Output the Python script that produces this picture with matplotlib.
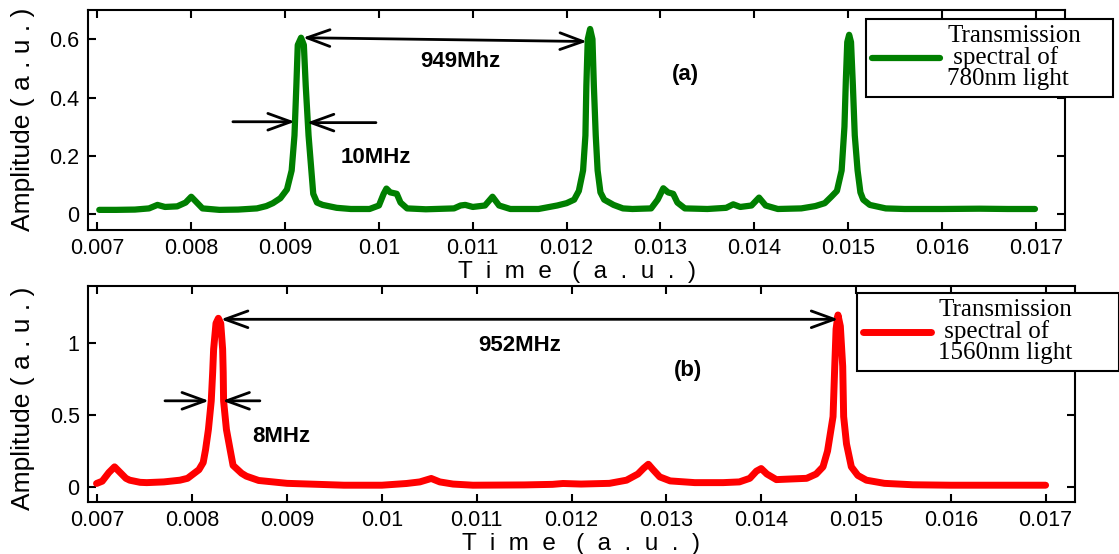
import matplotlib
matplotlib.use('Agg')
import matplotlib.pyplot as plt
import numpy as np

plt.rcParams['font.family'] = ['Liberation Sans', 'DejaVu Sans']

# time in units of 1e-3, amplitude in a.u.
green_t = [7.02, 7.20, 7.40, 7.55, 7.64, 7.72, 7.85, 7.94, 8.00, 8.06, 8.12, 8.30, 8.50,
           8.70, 8.80, 8.87, 8.95, 9.02, 9.07, 9.10, 9.12, 9.135, 9.17, 9.20, 9.22, 9.25,
           9.28, 9.30, 9.34, 9.40, 9.55, 9.70, 9.90, 10.00, 10.05, 10.08, 10.12, 10.19,
           10.23, 10.30, 10.50, 10.80, 10.87, 10.92, 11.00, 11.13, 11.21, 11.28, 11.40,
           11.70, 11.90, 12.00, 12.08, 12.13, 12.175, 12.20, 12.21, 12.225, 12.25, 12.275,
           12.29, 12.31, 12.33, 12.36, 12.40, 12.50, 12.60, 12.70, 12.90, 12.97, 13.03,
           13.08, 13.135, 13.18, 13.26, 13.50, 13.70, 13.775, 13.85, 13.97, 14.05, 14.12,
           14.25, 14.50, 14.65, 14.75, 14.82, 14.88, 14.93, 14.96, 14.975, 14.99, 15.01,
           15.03, 15.05, 15.07, 15.10, 15.13, 15.16, 15.23, 15.40, 15.60, 16.00, 16.40,
           16.70, 16.99]
green_a = [0.015, 0.015, 0.016, 0.020, 0.032, 0.025, 0.027, 0.040, 0.060, 0.040, 0.020,
           0.015, 0.016, 0.020, 0.028, 0.038, 0.055, 0.085, 0.150, 0.270, 0.440, 0.580,
           0.605, 0.580, 0.440, 0.270, 0.150, 0.070, 0.040, 0.032, 0.022, 0.018, 0.018,
           0.030, 0.070, 0.088, 0.075, 0.070, 0.040, 0.020, 0.017, 0.020, 0.030, 0.032,
           0.025, 0.030, 0.060, 0.030, 0.018, 0.018, 0.030, 0.038, 0.050, 0.080, 0.150,
           0.270, 0.440, 0.600, 0.635, 0.600, 0.440, 0.270, 0.150, 0.075, 0.050, 0.032,
           0.020, 0.018, 0.020, 0.050, 0.089, 0.075, 0.070, 0.040, 0.020, 0.018, 0.022,
           0.034, 0.025, 0.030, 0.057, 0.030, 0.018, 0.020, 0.028, 0.038, 0.060, 0.080,
           0.150, 0.300, 0.460, 0.590, 0.615, 0.590, 0.440, 0.270, 0.150, 0.075, 0.050,
           0.032, 0.020, 0.018, 0.018, 0.019, 0.018, 0.018]

red_t = [6.99, 7.05, 7.12, 7.18, 7.24, 7.30, 7.34, 7.45, 7.52, 7.70, 7.87, 7.95, 8.01,
         8.07, 8.115, 8.14, 8.17, 8.20, 8.215, 8.225, 8.25, 8.275, 8.30, 8.32, 8.326,
         8.33, 8.36, 8.40, 8.43, 8.52, 8.57, 8.70, 8.85, 9.00, 9.28, 9.60, 10.00, 10.26,
         10.40, 10.52, 10.61, 10.75, 10.96, 11.50, 11.80, 11.91, 12.10, 12.40, 12.58,
         12.70, 12.76, 12.81, 12.86, 12.93, 13.04, 13.30, 13.60, 13.77, 13.88, 13.95,
         14.00, 14.06, 14.16, 14.30, 14.48, 14.58, 14.652, 14.70, 14.758, 14.776, 14.79,
         14.81, 14.835, 14.86, 14.87, 14.90, 14.951, 15.02, 15.11, 15.30, 15.60, 16.00,
         16.50, 17.00]
red_a = [0.024, 0.040, 0.100, 0.140, 0.100, 0.060, 0.047, 0.032, 0.030, 0.035, 0.047,
         0.060, 0.090, 0.120, 0.170, 0.260, 0.400, 0.600, 0.800, 0.960, 1.140, 1.175,
         1.140, 0.960, 0.800, 0.600, 0.400, 0.256, 0.150, 0.095, 0.075, 0.045, 0.035,
         0.025, 0.019, 0.012, 0.012, 0.024, 0.035, 0.059, 0.035, 0.020, 0.012, 0.014,
         0.018, 0.024, 0.020, 0.025, 0.047, 0.090, 0.130, 0.158, 0.120, 0.070, 0.042,
         0.030, 0.030, 0.035, 0.060, 0.110, 0.128, 0.090, 0.051, 0.055, 0.060, 0.090,
         0.140, 0.250, 0.490, 0.840, 1.100, 1.198, 1.120, 0.840, 0.490, 0.300, 0.140,
         0.080, 0.047, 0.025, 0.015, 0.012, 0.012, 0.012]

x_ticks = [0.007, 0.008, 0.009, 0.010, 0.011, 0.012, 0.013, 0.014, 0.015, 0.016, 0.017]
x_tick_labels = ['0.007', '0.008', '0.009', '0.01', '0.011', '0.012', '0.013', '0.014',
                 '0.015', '0.016', '0.017']
top_y_ticks = [0, 0.2, 0.4, 0.6]
top_y_labels = ['0', '0.2', '0.4', '0.6']
bot_y_ticks = [0, 0.5, 1]
bot_y_labels = ['0', '0.5', '1']

W, H = 1119, 554
fig = plt.figure(figsize=(W / 100, H / 100), dpi=100)

def px_box(l, t, r, b):
    return [l / W, 1 - b / H, (r - l) / W, (b - t) / H]

ax1 = fig.add_axes(px_box(88, 10, 1065, 230))
ax2 = fig.add_axes(px_box(88, 286, 1075, 502))

t_green = np.array(green_t) * 1e-3
t_red = np.array(red_t) * 1e-3
ax1.plot(t_green, green_a, color='#007f00', lw=4.5, solid_joinstyle='round',
         solid_capstyle='round', label='Transmission\n spectral of\n780nm light')
ax2.plot(t_red, red_a, color='#ff0000', lw=5.0, solid_joinstyle='round',
         solid_capstyle='round', label='Transmission\n spectral of\n1560nm light')

ax1.set_ylim(-0.054, 0.70)
ax2.set_ylim(-0.105, 1.40)
ax1.set_yticks(top_y_ticks, top_y_labels)
ax2.set_yticks(bot_y_ticks, bot_y_labels)

for ax in (ax1, ax2):
    ax.set_xlim(0.0069, 0.01731)
    ax.set_xticks(x_ticks, x_tick_labels)
    ax.tick_params(direction='in', top=True, right=True, length=6, width=1.5,
                   labelsize=15.5, pad=6)
    for sp in ax.spines.values():
        sp.set_linewidth(1.5)
    ax.set_xlabel('T  i  m  e   (  a  .  u  .  )', fontsize=17.5, labelpad=1)

fig.text(23 / W, 1 - 231 / H, 'Amplitude ( a . u . )', rotation=90, ha='center',
         va='bottom', fontsize=19)
fig.text(23 / W, 1 - 510 / H, 'Amplitude ( a . u . )', rotation=90, ha='center',
         va='bottom', fontsize=19)

arrow = dict(arrowstyle='->, head_length=0.55, head_width=0.2', lw=2.0, color='k',
             mutation_scale=30, shrinkA=0, shrinkB=0)
darrow = dict(arrowstyle='<->, head_length=0.55, head_width=0.2', lw=2.0, color='k',
              mutation_scale=30, shrinkA=0, shrinkB=0)

# panel (a)
ax1.annotate('', xy=(0.012216, 0.592), xytext=(0.00919, 0.605), arrowprops=darrow)
ax1.annotate('', xy=(0.009104, 0.317), xytext=(0.008444, 0.317), arrowprops=arrow)
ax1.annotate('', xy=(0.009232, 0.314), xytext=(0.009968, 0.314), arrowprops=arrow)
ax1.text(0.010863, 0.523, '949Mhz', fontsize=16, weight='bold', ha='center', va='center')
ax1.text(0.009962, 0.194, '10MHz', fontsize=16, weight='bold', ha='center', va='center')
ax1.text(0.013269, 0.478, '(a)', fontsize=16, weight='bold', ha='center', va='center')

# panel (b)
ax2.annotate('', xy=(0.014813, 1.168), xytext=(0.008302, 1.168), arrowprops=darrow)
ax2.annotate('', xy=(0.008176, 0.60), xytext=(0.007712, 0.60), arrowprops=arrow)
ax2.annotate('', xy=(0.008318, 0.60), xytext=(0.008713, 0.60), arrowprops=arrow)
ax2.text(0.011454, 0.982, '952MHz', fontsize=16, weight='bold', ha='center', va='center')
ax2.text(0.013231, 0.81, '(b)', fontsize=16, weight='bold', ha='center', va='center')
ax2.text(0.008935, 0.349, '8MHz', fontsize=16, weight='bold', ha='center', va='center')

leg_kw = dict(loc='upper left', mode='expand', bbox_transform=fig.transFigure,
              borderaxespad=0, fancybox=False, edgecolor='k', framealpha=1,
              prop={'family': 'Liberation Serif', 'size': 18}, handlelength=2.7,
              handletextpad=0.3, borderpad=0.25)
l1 = ax1.legend(bbox_to_anchor=(866 / W, 1 - 97 / H, 247 / W, 78 / H), **leg_kw)
l2 = ax2.legend(bbox_to_anchor=(857 / W, 1 - 376 / H, 262 / W, 83 / H), **leg_kw)
for lg in (l1, l2):
    lg.get_frame().set_linewidth(1.5)
    for t in lg.get_texts():
        t.set_linespacing(0.95)

fig.savefig('out.png', dpi=100)
